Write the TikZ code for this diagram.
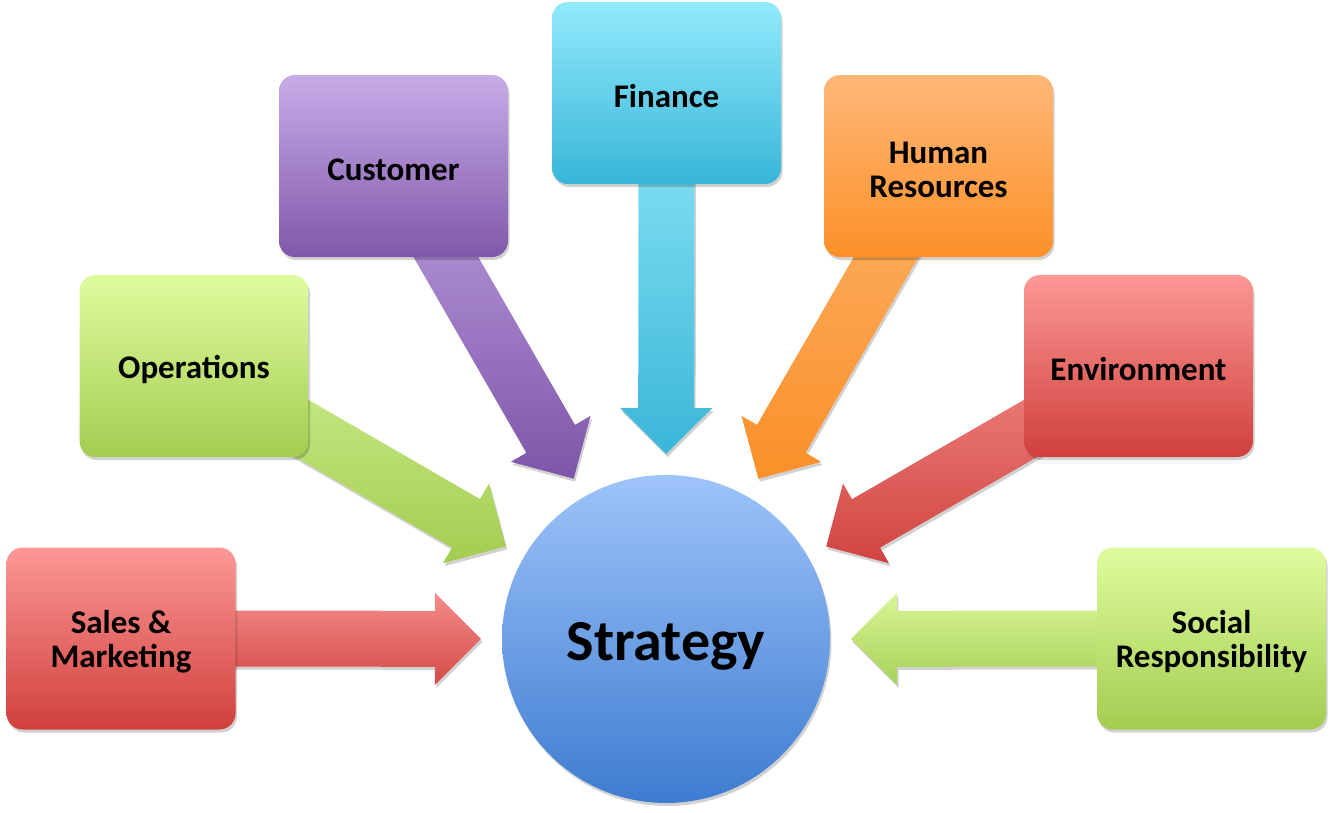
\documentclass[tikz,border=0pt]{standalone}
\usepackage{fontspec}
\setmainfont{Carlito}
\usetikzlibrary{calc,shadows,backgrounds}

\definecolor{redT}{HTML}{FC9896}
\definecolor{redB}{HTML}{D0403C}
\definecolor{grnT}{HTML}{DEFC9E}
\definecolor{grnB}{HTML}{A4CC50}
\definecolor{purT}{HTML}{C8ACE8}
\definecolor{purB}{HTML}{8058AA}
\definecolor{cyaT}{HTML}{92EAFC}
\definecolor{cyaB}{HTML}{38B6D8}
\definecolor{orgT}{HTML}{FFB878}
\definecolor{orgB}{HTML}{FC9028}
\definecolor{bluT}{HTML}{9EC4FA}
\definecolor{bluB}{HTML}{3E7CD0}
% arrow colours
\definecolor{aSalT}{HTML}{F48C8A}
\definecolor{aSalB}{HTML}{D44A46}
\definecolor{aOpsT}{HTML}{CDEE90}
\definecolor{aOpsB}{HTML}{A4CC50}
\definecolor{aCusT}{HTML}{BEA0E2}
\definecolor{aCusB}{HTML}{7E56A8}
\definecolor{aFinT}{HTML}{8EE8F8}
\definecolor{aFinB}{HTML}{3AB6D8}
\definecolor{aHrT}{HTML}{FDB26A}
\definecolor{aHrB}{HTML}{FA9028}
\definecolor{aEnvT}{HTML}{F28A86}
\definecolor{aEnvB}{HTML}{D04440}
\definecolor{aSocT}{HTML}{D8F696}
\definecolor{aSocB}{HTML}{A8D05A}

\tikzset{
  softshadow/.style={drop shadow={shadow xshift=1.5pt, shadow yshift=-3pt, opacity=0.18, fill=black}},
  box/.style={rectangle, rounded corners=16pt, minimum width=229pt, minimum height=182pt,
    inner sep=0pt, softshadow},
  boxtext/.style={inner sep=0pt, align=center, text=black, yshift=-3.5pt,
    font=\bfseries\fontsize{33}{34}\selectfont},
  hub/.style={circle, minimum size=328pt, inner sep=0pt,
    top color=bluT, bottom color=bluB, softshadow},
  hubtext/.style={inner sep=0pt, text=black, yshift=-7pt,
    font=\bfseries\fontsize{58}{60}\selectfont},
  barrowstyle/.style={softshadow}
}

% block arrow from node #1 towards node #2, colours #3 (top) #4 (bottom)
\newcommand{\barrow}[4]{%
  \coordinate (A) at (#1.center);
  \coordinate (T) at ($(#2.center)!185pt!(#1.center)$);
  \coordinate (H) at ($(T)!46pt!(A)$);
  \path[barrowstyle, top color=#3, bottom color=#4]
    ($(A)!28pt!90:(T)$) -- ($(H)!28pt!90:(T)$) -- ($(H)!46pt!90:(T)$) -- (T)
    -- ($(H)!46pt!-90:(T)$) -- ($(H)!28pt!-90:(T)$) -- ($(A)!28pt!-90:(T)$) -- cycle;
}

\begin{document}
\begin{tikzpicture}[x=1pt, y=-1pt]
\useasboundingbox (0,0) rectangle (1331,812);

\node[hub] (strategy) at (666,639) {};
\node[hubtext] (strategy-t) at (strategy.center) {Strategy};

\node[box, top color=redT, bottom color=redB] (sales) at (121,638.5) {};
\node[box, top color=grnT, bottom color=grnB] (ops) at (194,366) {};
\node[box, top color=purT, bottom color=purB] (cust) at (393.5,166) {};
\node[box, top color=cyaT, bottom color=cyaB] (fin) at (666.5,93) {};
\node[box, top color=orgT, bottom color=orgB] (hr) at (938.5,166) {};
\node[box, top color=redT, bottom color=redB] (env) at (1138.5,366) {};
\node[box, top color=grnT, bottom color=grnB] (soc) at (1211.5,638.5) {};

\node[boxtext] (sales-t) at (sales.center) {Sales \&\\Marketing};
\node[boxtext] (ops-t) at (ops.center) {Operations};
\node[boxtext] (cust-t) at (cust.center) {Customer};
\node[boxtext] (fin-t) at (fin.center) {Finance};
\node[boxtext] (hr-t) at (hr.center) {Human\\Resources};
\node[boxtext] (env-t) at (env.center) {Environment};
\node[boxtext] (soc-t) at (soc.center) {Social\\Responsibility};

\begin{pgfonlayer}{background}
  \barrow{sales}{strategy}{aSalT}{aSalB}
  \barrow{ops}{strategy}{aOpsT}{aOpsB}
  \barrow{cust}{strategy}{aCusT}{aCusB}
  \barrow{fin}{strategy}{aFinT}{aFinB}
  \barrow{hr}{strategy}{aHrT}{aHrB}
  \barrow{env}{strategy}{aEnvT}{aEnvB}
  \barrow{soc}{strategy}{aSocT}{aSocB}
\end{pgfonlayer}
\end{tikzpicture}
\end{document}
